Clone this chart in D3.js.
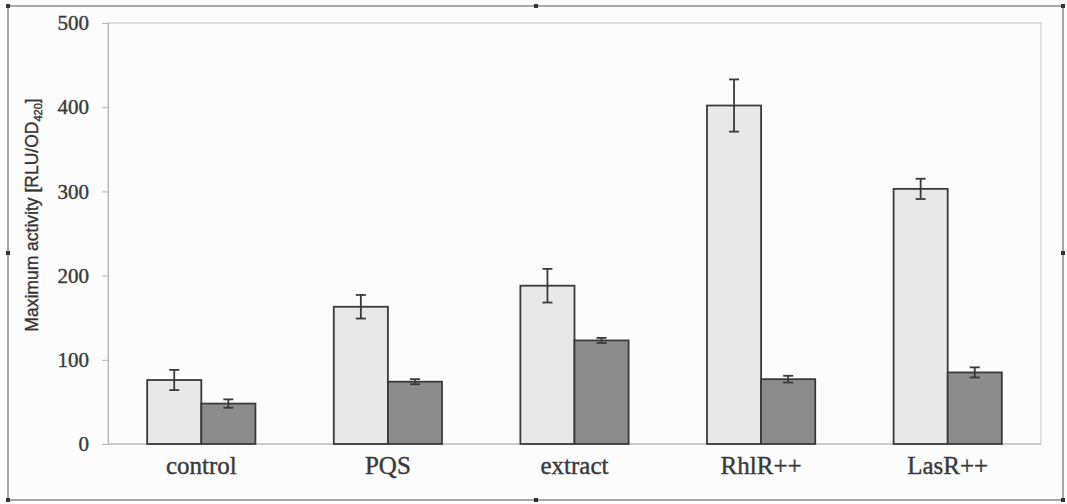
<!DOCTYPE html>
<html>
<head>
<meta charset="utf-8">
<script src="https://cdn.jsdelivr.net/npm/d3@7"></script>
<style>
  body { margin: 0; background: #fff; }
  svg { display: block; }
  .tick text { font-family: "Liberation Serif", "Times New Roman", serif; }
</style>
</head>
<body>
<svg id="chart" width="1067" height="504"></svg>
<script>
// data
var categories = ['control', 'PQS', 'extract', 'RhlR++', 'LasR++'];
var seriesNames = ['light', 'dark'];
var lightValues = [76, 163, 188, 402, 303];
var lightErrors = [12, 14, 20, 31, 12];
var darkValues = [48, 74, 123, 77, 85];
var darkErrors = [5, 3, 3, 4, 6];
var yTicks = [0, 100, 200, 300, 400, 500];

var svg = d3.select('#chart'),
    width = +svg.attr('width'),
    height = +svg.attr('height');

var margin = {top: 23, right: 26, bottom: 60, left: 108};
var plotW = width - margin.left - margin.right,
    plotH = height - margin.top - margin.bottom;

// background + outer frame
svg.append('rect')
    .attr('width', width).attr('height', height)
    .attr('fill', '#fcfcfc');

svg.append('rect')
    .attr('x', 8).attr('y', 6)
    .attr('width', 1055).attr('height', 494)
    .attr('fill', 'none')
    .attr('stroke', '#8a8a8a')
    .attr('stroke-width', 1.5);

// selection handles on the frame
var handles = [[8, 6], [536, 6], [1063, 6], [8, 253], [1063, 253], [8, 500], [536, 500], [1063, 500]];
svg.selectAll('.handle')
    .data(handles)
  .enter().append('rect')
    .attr('class', 'handle')
    .attr('x', function(d) { return d[0] - 2; })
    .attr('y', function(d) { return d[1] - 2; })
    .attr('width', 4).attr('height', 4)
    .attr('fill', '#333');

var g = svg.append('g')
    .attr('transform', 'translate(' + margin.left + ',' + margin.top + ')');

var x = d3.scaleBand()
    .domain(categories)
    .range([0, plotW])
    .paddingInner(0.42)
    .paddingOuter(0.21);

var xs = d3.scaleBand()
    .domain(seriesNames)
    .range([0, x.bandwidth()]);

var y = d3.scaleLinear()
    .domain([0, 500])
    .range([plotH, 0]);

// plot area frame
g.append('rect')
    .attr('width', plotW).attr('height', plotH)
    .attr('fill', 'none')
    .attr('stroke', '#c4c4c4')
    .attr('stroke-width', 1);

// y axis
var yAxis = g.append('g')
    .call(d3.axisLeft(y).tickValues(yTicks).tickSize(6).tickPadding(13));
yAxis.select('.domain').attr('stroke', '#b5b5b5');
yAxis.selectAll('.tick line').attr('stroke', '#b5b5b5');
yAxis.selectAll('.tick text')
    .attr('font-size', 21)
    .attr('fill', '#3a3a3a')
    .attr('stroke', '#3a3a3a')
    .attr('stroke-width', 0.4);

// baseline
g.append('line')
    .attr('x1', 0).attr('x2', plotW)
    .attr('y1', y(0)).attr('y2', y(0))
    .attr('stroke', '#b5b5b5');

// x labels
var xAxis = g.append('g')
    .attr('transform', 'translate(0,' + plotH + ')')
    .call(d3.axisBottom(x).tickSize(0).tickPadding(12));
xAxis.select('.domain').remove();
xAxis.selectAll('.tick text')
    .attr('font-size', 25)
    .attr('fill', '#3a3a3a')
    .attr('stroke', '#3a3a3a')
    .attr('stroke-width', 0.4);

// y label
svg.append('text')
    .attr('transform', 'translate(38,' + 215 + ') rotate(-90)')
    .attr('text-anchor', 'middle')
    .attr('font-family', '"Liberation Sans", Arial, sans-serif')
    .attr('font-size', 17.5)
    .attr('fill', '#333')
    .attr('stroke', '#333')
    .attr('stroke-width', 0.35)
    .call(function(t) {
      t.append('tspan').text('Maximum activity [RLU/OD');
      t.append('tspan').attr('font-size', 11).attr('dy', 4).text('420');
      t.append('tspan').attr('dy', -4).text(']');
    });

// bars
var rows = categories.map(function(c, i) {
  return {cat: c, vals: [
    {s: 'light', v: lightValues[i], e: lightErrors[i]},
    {s: 'dark', v: darkValues[i], e: darkErrors[i]}
  ]};
});

var colors = {light: '#e8e8e8', dark: '#8c8c8c'};

var groups = g.selectAll('.group')
    .data(rows)
  .enter().append('g')
    .attr('class', 'group')
    .attr('transform', function(d) { return 'translate(' + x(d.cat) + ',0)'; });

groups.selectAll('rect')
    .data(function(d) { return d.vals; })
  .enter().append('rect')
    .attr('x', function(d) { return xs(d.s); })
    .attr('width', xs.bandwidth())
    .attr('y', function(d) { return y(d.v); })
    .attr('height', function(d) { return y(0) - y(d.v); })
    .attr('fill', function(d) { return colors[d.s]; })
    .attr('stroke', '#3a3a3a')
    .attr('stroke-width', 1.8);

// error bars
var cap = 5;
var err = groups.selectAll('.err')
    .data(function(d) { return d.vals; })
  .enter().append('g')
    .attr('class', 'err')
    .attr('stroke', '#3a3a3a')
    .attr('stroke-width', 1.8);

err.append('line')
    .attr('x1', function(d) { return xs(d.s) + xs.bandwidth() / 2; })
    .attr('x2', function(d) { return xs(d.s) + xs.bandwidth() / 2; })
    .attr('y1', function(d) { return y(d.v + d.e); })
    .attr('y2', function(d) { return y(d.v - d.e); });

err.append('line')
    .attr('x1', function(d) { return xs(d.s) + xs.bandwidth() / 2 - cap; })
    .attr('x2', function(d) { return xs(d.s) + xs.bandwidth() / 2 + cap; })
    .attr('y1', function(d) { return y(d.v + d.e); })
    .attr('y2', function(d) { return y(d.v + d.e); });

err.append('line')
    .attr('x1', function(d) { return xs(d.s) + xs.bandwidth() / 2 - cap; })
    .attr('x2', function(d) { return xs(d.s) + xs.bandwidth() / 2 + cap; })
    .attr('y1', function(d) { return y(d.v - d.e); })
    .attr('y2', function(d) { return y(d.v - d.e); });
</script>
</body>
</html>
